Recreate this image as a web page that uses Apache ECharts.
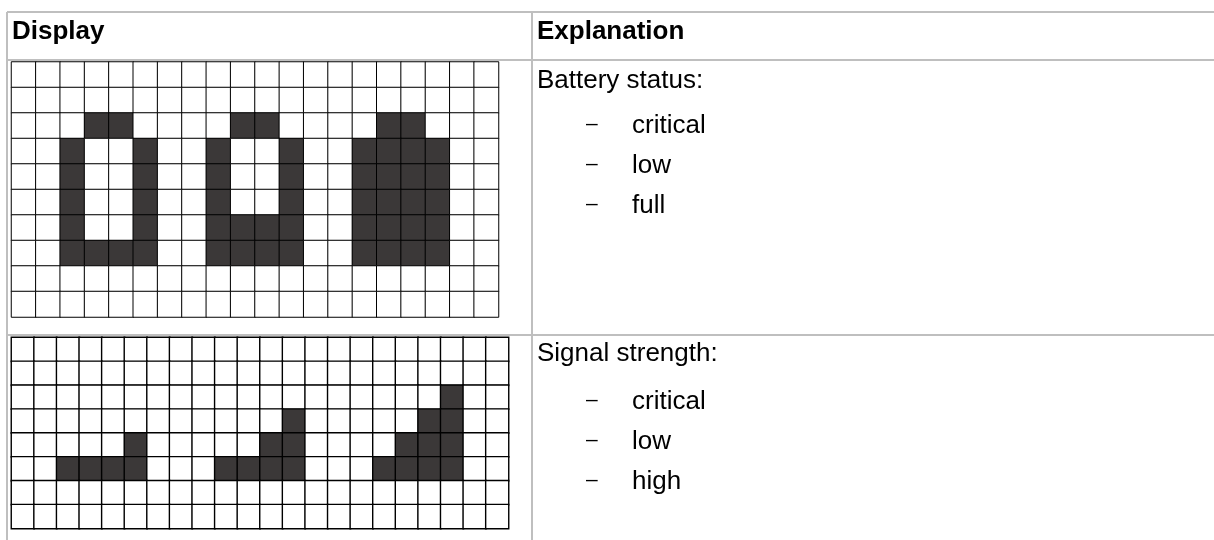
<!DOCTYPE html>
<html>
<head>
<meta charset="utf-8">
<style>
  html, body { margin: 0; padding: 0; background: #fff; }
  #chart { width: 1214px; height: 540px; }
</style>
<script src="https://cdn.jsdelivr.net/npm/echarts@6/dist/echarts.min.js"></script>
</head>
<body>
<div id="chart"></div>
<script>
// # = dark cell, . = empty cell
const batteryCells = [
  '....................',
  '....................',
  '...##....##....##...',
  '..#..#..#..#..####..',
  '..#..#..#..#..####..',
  '..#..#..#..#..####..',
  '..#..#..####..####..',
  '..####..####..####..',
  '....................',
  '....................'
];
const signalCells = [
  '......................',
  '......................',
  '...................#..',
  '............#.....##..',
  '.....#.....##....###..',
  '..####...####...####..',
  '......................',
  '......................'
];
const headers = ['Display', 'Explanation'];
const batteryTitle = 'Battery status:';
const batteryItems = ['critical', 'low', 'full'];
const signalTitle = 'Signal strength:';
const signalItems = ['critical', 'low', 'high'];

const FONT = '"Liberation Sans", Arial, sans-serif';
const DARK = '#3b3838';
const RULE = '#bfbfbf';

function toCells(rows) {
  const out = [];
  rows.forEach((row, y) => {
    row.split('').forEach((c, x) => {
      out.push({ value: [x, y, c === '#' ? 1 : 0], itemStyle: { color: c === '#' ? DARK : '#fff' } });
    });
  });
  return out;
}

function idx(n) {
  return Array.from({ length: n }, (_, i) => i);
}

function rule(x1, y1, x2, y2) {
  return { type: 'line', shape: { x1, y1, x2, y2 }, style: { stroke: RULE, lineWidth: 2 }, silent: true };
}

function label(text, x, y, bold, size) {
  return {
    type: 'text', x, y,
    style: { text, fill: '#000', font: (bold ? 'bold ' : '') + (size || 26) + 'px ' + FONT, textVerticalAlign: 'middle' },
    silent: true
  };
}

function listLabels(title, items, titleY, firstY) {
  const els = [label(title, 537, titleY)];
  items.forEach((t, i) => {
    els.push(label('\u2013', 586, firstY - 2 + i * 40, false, 21));
    els.push(label(t, 632, firstY + i * 40));
  });
  return els;
}

function axis(n, grid, inverse) {
  return {
    type: 'category', gridIndex: grid, data: idx(n), inverse: !!inverse,
    axisLine: { show: false }, axisTick: { show: false }, axisLabel: { show: false }, splitLine: { show: false }
  };
}

const option = {
  animation: false,
  backgroundColor: '#fff',
  grid: [
    { left: 11.5, top: 62, width: 487, height: 255 },
    { left: 11.5, top: 337.5, width: 497, height: 191 }
  ],
  xAxis: [axis(batteryCells[0].length, 0), axis(signalCells[0].length, 1)],
  yAxis: [axis(batteryCells.length, 0, true), axis(signalCells.length, 1, true)],
  series: [
    {
      type: 'heatmap', xAxisIndex: 0, yAxisIndex: 0, data: toCells(batteryCells),
      itemStyle: { borderColor: '#000', borderWidth: 1 }, emphasis: { disabled: true }
    },
    {
      type: 'heatmap', xAxisIndex: 1, yAxisIndex: 1, data: toCells(signalCells),
      itemStyle: { borderColor: '#000', borderWidth: 1.4 }, emphasis: { disabled: true }
    }
  ],
  graphic: [
    rule(7, 12, 1214, 12),
    rule(7, 60, 1214, 60),
    rule(7, 335, 1214, 335),
    rule(7, 12, 7, 540),
    rule(532, 12, 532, 540),
    label(headers[0], 12, 32, true),
    label(headers[1], 537, 32, true)
  ].concat(listLabels(batteryTitle, batteryItems, 81, 126))
   .concat(listLabels(signalTitle, signalItems, 354, 402))
};

const chart = echarts.init(document.getElementById('chart'), null, { renderer: 'canvas' });
chart.setOption(option);
</script>
</body>
</html>
